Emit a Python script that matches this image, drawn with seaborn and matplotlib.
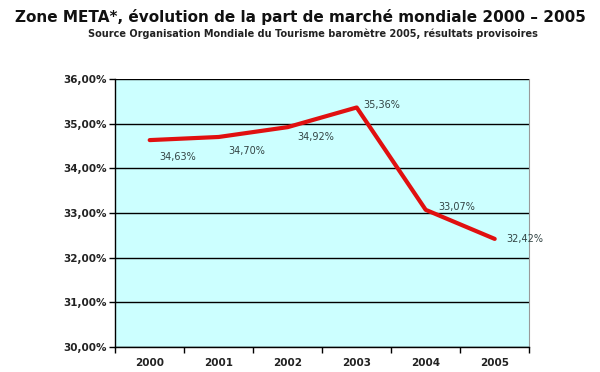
import matplotlib
matplotlib.use("Agg")
import matplotlib.pyplot as plt
import seaborn as sns
import pandas as pd
from matplotlib.ticker import FixedLocator, NullFormatter

years = ["2000", "2001", "2002", "2003", "2004", "2005"]
share = [34.63, 34.70, 34.92, 35.36, 33.07, 32.42]
yticks = [30, 31, 32, 33, 34, 35, 36]
label_offsets = [(20, -12), (20, -10), (20, -7), (18, 2), (22, 2), (22, 0)]

sns.set_theme(style="white")
plt.rcParams["font.family"] = ["DejaVu Sans"]

df = pd.DataFrame({"idx": range(len(years)), "share": share})

fig = plt.figure(figsize=(6.0, 3.72), dpi=100)
ax = fig.add_axes([0.192, 0.067, 0.690, 0.721])
ax.set_facecolor("#CCFFFF")

sns.lineplot(data=df, x="idx", y="share", ax=ax, color="#E01010", linewidth=3.0, zorder=3)

ax.set_xlim(-0.5, len(years) - 0.5)
ax.set_ylim(30, 36)
ax.set_yticks(yticks)
ax.set_yticklabels([f"{v:.2f}%".replace(".", ",") for v in yticks],
                   fontsize=7.5, fontweight="bold", color="#222222")
ax.yaxis.grid(True, color="black", linewidth=1.0)
ax.set_axisbelow(True)

# category labels centered, tick marks at boundaries
ax.xaxis.set_major_locator(FixedLocator([i - 0.5 for i in range(len(years) + 1)]))
ax.xaxis.set_major_formatter(NullFormatter())
ax.xaxis.set_minor_locator(FixedLocator(list(range(len(years)))))
ax.set_xticklabels(years, minor=True, fontsize=7.5, fontweight="bold", color="#222222")
ax.tick_params(axis="x", which="major", length=4, width=1, color="black", bottom=True)
ax.tick_params(axis="x", which="minor", length=0, pad=8)
ax.tick_params(axis="y", which="major", length=4, width=1, color="black", left=True, pad=2)

ax.set_xlabel("")
ax.set_ylabel("")

for s in ["left", "bottom"]:
    ax.spines[s].set_color("black")
    ax.spines[s].set_linewidth(1.0)
ax.spines["right"].set_color("#999999")
ax.spines["right"].set_linewidth(0.8)
ax.spines["top"].set_visible(False)

for i, v in enumerate(share):
    dx, dy = label_offsets[i]
    ax.annotate(f"{v:.2f}%".replace(".", ","), (i, v), xytext=(dx, dy),
                textcoords="offset points", ha="center", va="center",
                fontsize=7, color="#334444", zorder=4)

fig.text(0.5, 0.955, "Zone META*, évolution de la part de marché mondiale 2000 – 2005",
         ha="center", va="center", fontsize=11, fontweight="bold", color="#111111")
fig.text(0.522, 0.91, "Source Organisation Mondiale du Tourisme baromètre 2005, résultats provisoires",
         ha="center", va="center", fontsize=7, fontweight="bold", color="#222222")

fig.savefig("out.png", dpi=100, facecolor="white")
